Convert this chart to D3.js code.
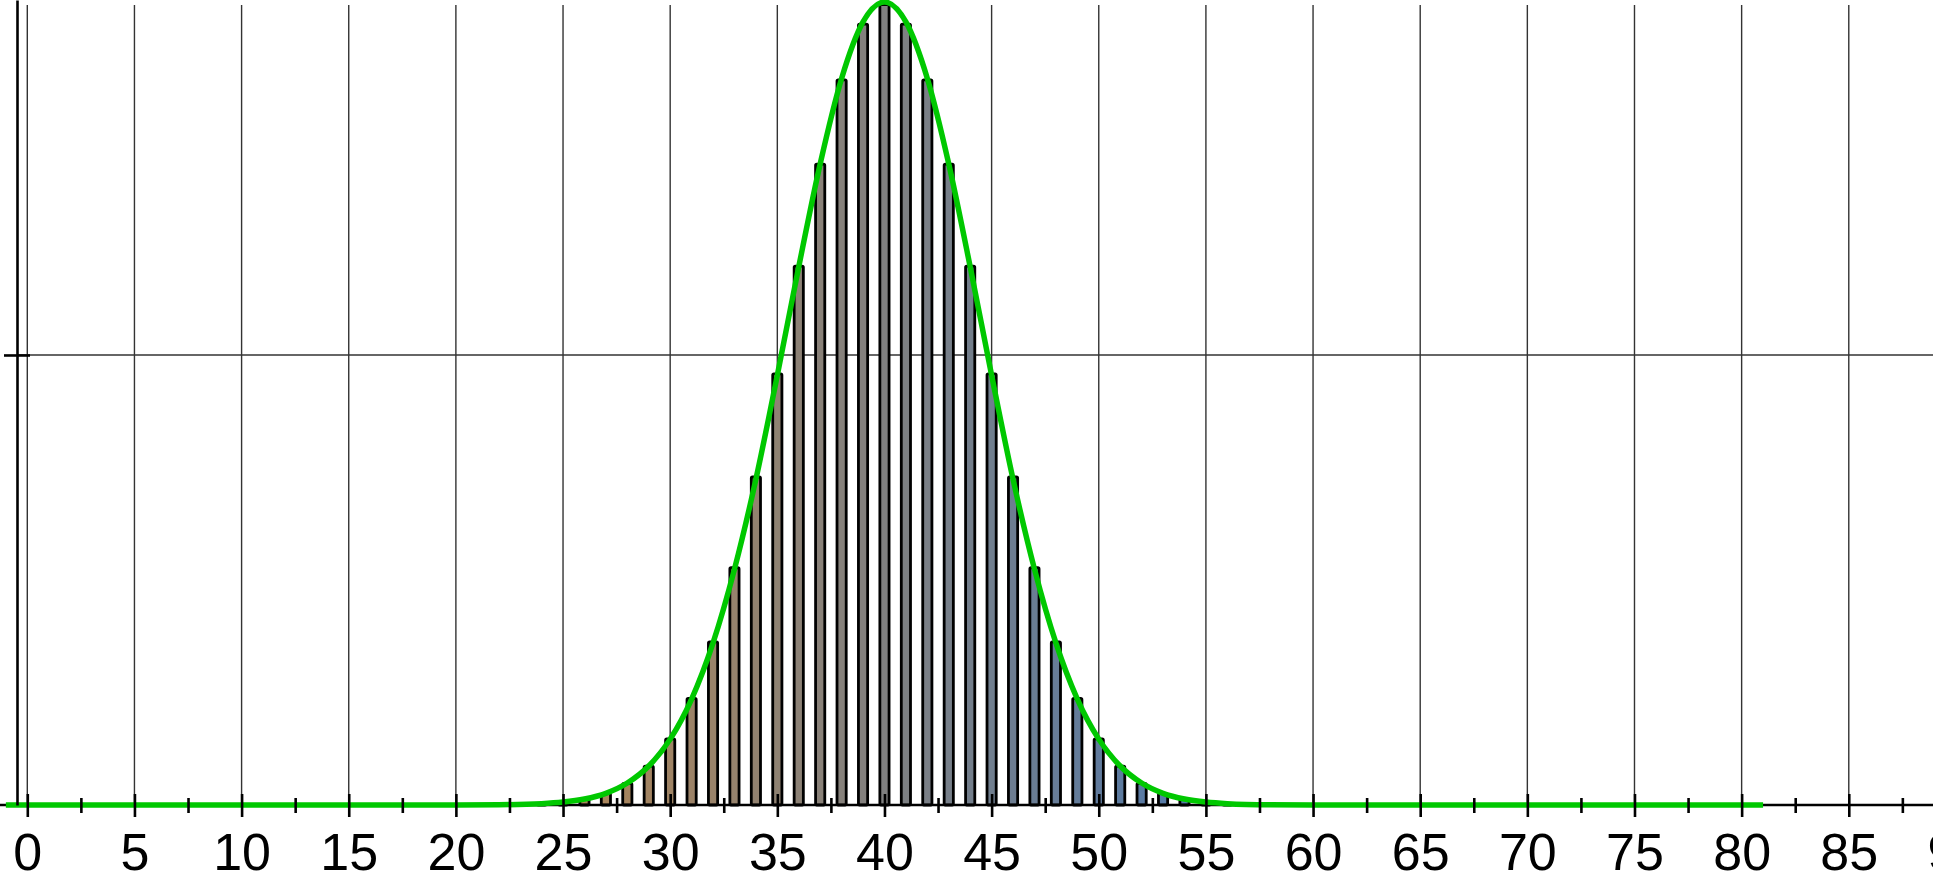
<!DOCTYPE html>
<html>
<head>
<meta charset="utf-8">
<script src="https://cdn.jsdelivr.net/npm/d3@7"></script>
<style>
  html, body { margin: 0; padding: 0; background: #fff; }
  svg { display: block; font-family: "Liberation Sans", Arial, sans-serif; }
</style>
</head>
<body>
<div id="chart"></div>
<script>
  // binomial bars (k, probability)
  const barK = [24, 25, 26, 27, 28, 29, 30, 31, 32, 33, 34, 35, 36, 37, 38, 39, 40,
                41, 42, 43, 44, 45, 46, 47, 48, 49, 50, 51, 52, 53, 54, 55, 56];
  const barP = [0.000134, 0.000301, 0.000636, 0.001272, 0.002407, 0.004317, 0.007338,
                0.011836, 0.018123, 0.026361, 0.036441, 0.047894, 0.059867, 0.071194,
                0.080561, 0.086758, 0.088927, 0.086758, 0.080561, 0.071194, 0.059867,
                0.047894, 0.036441, 0.026361, 0.018123, 0.011836, 0.007338, 0.004317,
                0.002407, 0.001272, 0.000636, 0.000301, 0.000134];

  // green curve points
  const curveX = [-1, 10, 20, 22, 24, 25, 26, 27, 28, 29, 30, 31, 32, 33, 34, 35, 36, 37, 38, 39, 40,
                  41, 42, 43, 44, 45, 46, 47, 48, 49, 50, 51, 52, 53, 54, 55, 56, 58, 60, 70, 81];
  const curveY = [0, 0, 0.000004, 0.000027, 0.000148, 0.000322, 0.000664, 0.0013, 0.00244, 0.00433,
                  0.00732, 0.01177, 0.01801, 0.02621, 0.03619, 0.04775, 0.0598, 0.07123, 0.08072,
                  0.087, 0.08921, 0.087, 0.08072, 0.07123, 0.0598, 0.04775, 0.03619, 0.02621,
                  0.01801, 0.01177, 0.00732, 0.00433, 0.00244, 0.0013, 0.000664, 0.000322,
                  0.000148, 0.000027, 0.000004, 0, 0];

  const xMajor = [0, 5, 10, 15, 20, 25, 30, 35, 40, 45, 50, 55, 60, 65, 70, 75, 80, 85, 90];
  const xMinor = [2.5, 7.5, 12.5, 17.5, 22.5, 27.5, 32.5, 37.5, 42.5, 47.5, 52.5, 57.5,
                  62.5, 67.5, 72.5, 77.5, 82.5, 87.5];
  const yTicks = [0.05];

  const width = 1933, height = 882;
  const baseY = 805, yAxisX = 17;

  const x = d3.scaleLinear().domain([-1.274, 88.93]).range([0, width]);
  const y = d3.scaleLinear().domain([0, 0.08944]).range([baseY, 0]);

  const color = d3.scaleLinear()
    .domain([26, 40, 54])
    .range(["#ab855a", "#808080", "#5479a8"])
    .interpolate(d3.interpolateRgb);

  const svg = d3.select("#chart").append("svg")
    .attr("width", width)
    .attr("height", height);

  // grid
  svg.append("g").selectAll("line.vg")
    .data(xMajor)
    .enter().append("line")
    .attr("x1", d => x(d)).attr("x2", d => x(d))
    .attr("y1", 5).attr("y2", baseY)
    .attr("stroke", "#333").attr("stroke-width", 1.4);

  svg.append("g").selectAll("line.hg")
    .data(yTicks)
    .enter().append("line")
    .attr("x1", yAxisX).attr("x2", width)
    .attr("y1", d => y(d)).attr("y2", d => y(d))
    .attr("stroke", "#333").attr("stroke-width", 1.4);

  // bars
  const barW = 9.2;
  svg.append("g").selectAll("rect")
    .data(barK.map((k, i) => ({ k: k, p: barP[i] })))
    .enter().append("rect")
    .attr("x", d => x(d.k) - barW / 2)
    .attr("y", d => y(d.p))
    .attr("width", barW)
    .attr("height", d => baseY - y(d.p))
    .attr("rx", 1.2)
    .attr("fill", d => color(d.k))
    .attr("stroke", "#000")
    .attr("stroke-width", 2.8);

  // x axis line
  svg.append("line")
    .attr("x1", 0).attr("x2", width)
    .attr("y1", baseY).attr("y2", baseY)
    .attr("stroke", "#000").attr("stroke-width", 2.5);

  // green curve
  const line = d3.line()
    .x(d => x(d[0]))
    .y(d => y(d[1]))
    .curve(d3.curveMonotoneX);

  svg.append("path")
    .datum(curveX.map((v, i) => [v, curveY[i]]))
    .attr("d", line)
    .attr("fill", "none")
    .attr("stroke", "#00c800")
    .attr("stroke-width", 5.5);

  // x ticks and labels
  const xAxis = svg.append("g")
    .attr("transform", `translate(0,${baseY})`)
    .call(d3.axisBottom(x).tickValues(xMajor).tickSize(11).tickSizeOuter(0).tickFormat(d3.format("d")));
  xAxis.select(".domain").remove();
  xAxis.selectAll(".tick line").attr("y1", -11).attr("y2", 12)
    .attr("stroke", "#000").attr("stroke-width", 2.6);
  xAxis.selectAll(".tick text")
    .attr("y", 65).attr("dy", null)
    .attr("fill", "#000")
    .style("font-size", "52px")
    .style("font-family", "'Liberation Sans', Arial, sans-serif");

  const xMinorAxis = svg.append("g")
    .attr("transform", `translate(0,${baseY})`)
    .call(d3.axisBottom(x).tickValues(xMinor).tickSize(7).tickSizeOuter(0).tickFormat(""));
  xMinorAxis.select(".domain").remove();
  xMinorAxis.selectAll(".tick line").attr("y1", -7).attr("y2", 8)
    .attr("stroke", "#000").attr("stroke-width", 2.6);

  // y axis
  const yAxis = svg.append("g")
    .attr("transform", `translate(${yAxisX},0)`)
    .call(d3.axisLeft(y).tickValues(yTicks).tickSize(13).tickSizeOuter(0).tickFormat(""));
  yAxis.select(".domain").attr("stroke", "#000").attr("stroke-width", 2.6);
  yAxis.selectAll(".tick line").attr("x1", -13).attr("x2", 13)
    .attr("stroke", "#000").attr("stroke-width", 2.6);
</script>
</body>
</html>
